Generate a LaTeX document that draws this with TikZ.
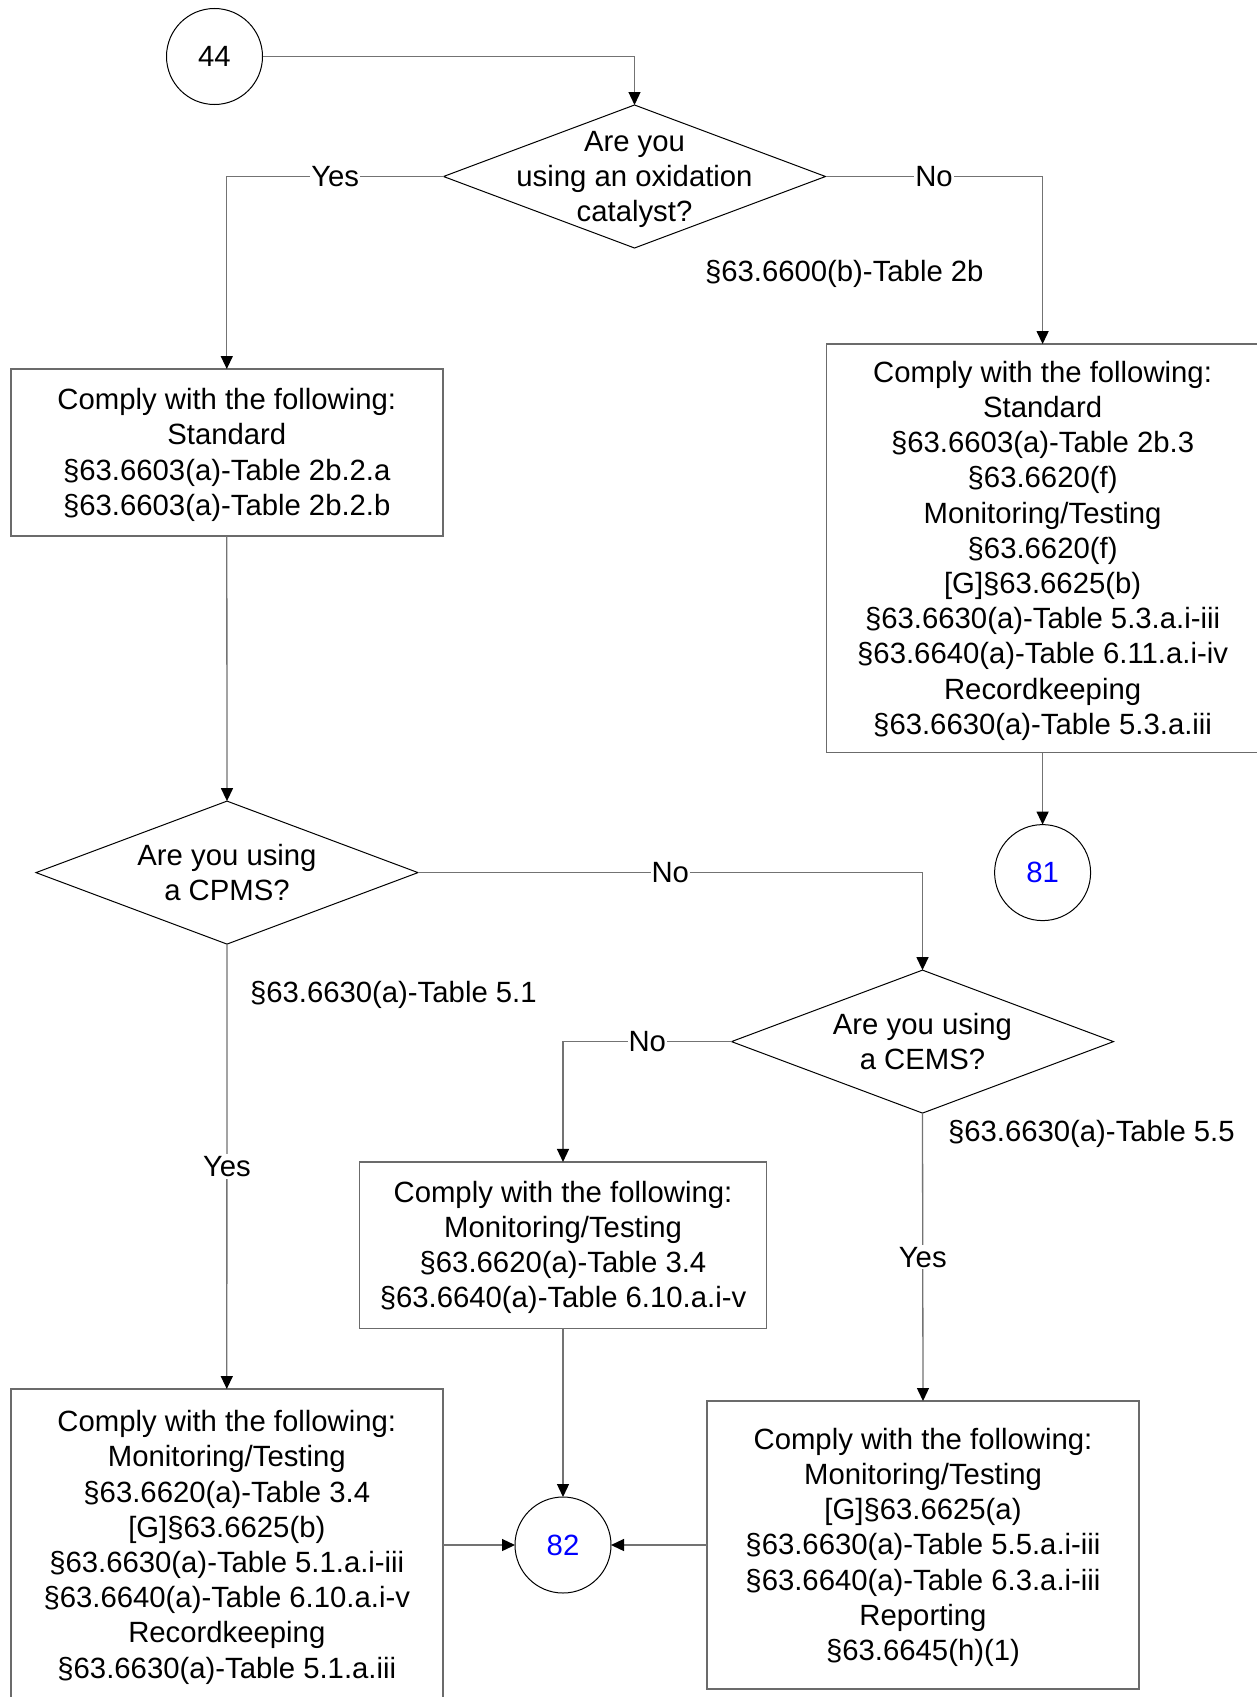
\documentclass[tikz,border=0pt]{standalone}
\usepackage{fontspec}
\setmainfont{Liberation Sans}
\usetikzlibrary{arrows.meta,shapes.geometric}
\newcommand\tp{\rule{0pt}{26pt}}
\begin{document}
\begin{tikzpicture}[x=1pt,y=-1pt,
  every node/.style={font=\fontsize{29.3}{35.2}\selectfont, inner sep=0pt, outer sep=0pt},
  conn/.style={draw=black!55, line width=1.3pt},
  arr/.style={conn, -{Triangle[length=13pt,width=12pt,fill=black,color=black]}},
  boxnode/.style={rectangle, draw=black!58, line width=1.4pt, align=center, fill=white},
  dia/.style={diamond, draw=black, line width=1pt, minimum width=382pt, minimum height=143pt},
  conncirc/.style={circle, draw=black, line width=1pt, minimum size=96pt},
  lbl/.style={fill=white, inner xsep=1pt, inner ysep=2pt},
  ref/.style={anchor=west}]
\useasboundingbox (0,0) rectangle (1257,1697);
\fill[white] (0,0) rectangle (1257,1697);

% shapes
\node[conncirc] (c44) at (214.5,56.5) {44};
\node[dia] (d1) at (634.5,176.5) {};
\node[align=center] (d1t) at (634.5,176.5) {\tp Are you\\using an oxidation\\catalyst?};

\node[boxnode, minimum width=432pt, minimum height=167pt] (b1) at (226.8,452.5)
  {\tp Comply with the following:\\Standard\\§63.6603(a)-Table 2b.2.a\\§63.6603(a)-Table 2b.2.b};
\node[boxnode, minimum width=432pt, minimum height=408.5pt] (b2) at (1042.6,548.3)
  {\tp Comply with the following:\\Standard\\§63.6603(a)-Table 2b.3\\§63.6620(f)\\Monitoring/Testing\\§63.6620(f)\\{}[G]§63.6625(b)\\§63.6630(a)-Table 5.3.a.i-iii\\§63.6640(a)-Table 6.11.a.i-iv\\Recordkeeping\\§63.6630(a)-Table 5.3.a.iii};

\node[dia] (d2) at (227,872.6) {};
\node[align=center] (d2t) at (227,870) {\tp Are you using\\a CPMS?};
\node[conncirc, text=blue] (c81) at (1042.6,872.6) {81};

\node[dia] (d3) at (922.5,1041.6) {};
\node[align=center] (d3t) at (922.5,1038.8) {\tp Are you using\\a CEMS?};

\node[boxnode, minimum width=407pt, minimum height=166.5pt] (b3) at (563,1245.2)
  {\tp Comply with the following:\\Monitoring/Testing\\§63.6620(a)-Table 3.4\\§63.6640(a)-Table 6.10.a.i-v};

\node[boxnode, minimum width=432pt, minimum height=312pt] (b4) at (226.8,1545)
  {\tp Comply with the following:\\Monitoring/Testing\\§63.6620(a)-Table 3.4\\{}[G]§63.6625(b)\\§63.6630(a)-Table 5.1.a.i-iii\\§63.6640(a)-Table 6.10.a.i-v\\Recordkeeping\\§63.6630(a)-Table 5.1.a.iii};
\node[boxnode, minimum width=432pt, minimum height=288pt] (b5) at (923,1545)
  {\tp Comply with the following:\\Monitoring/Testing\\{}[G]§63.6625(a)\\§63.6630(a)-Table 5.5.a.i-iii\\§63.6640(a)-Table 6.3.a.i-iii\\Reporting\\§63.6645(h)(1)};
\node[conncirc, text=blue] (c82) at (563,1545) {82};

% side references
\node[ref] (r1) at (705,274) {§63.6600(b)-Table 2b};
\node[ref] (r2) at (250,995) {§63.6630(a)-Table 5.1};
\node[ref] (r3) at (948,1133.5) {§63.6630(a)-Table 5.5};

% connectors
\draw[arr] (c44.east) -| (d1.north);
\draw[arr] (d1.west) -| node[lbl, pos=0.25] (ly1) {Yes} (b1.north);
\draw[arr] (d1.east) -| node[lbl, pos=0.25] (ln1) {No} (b2.north);
\draw[arr] (b1.south) -- (d2.north);
\draw[arr] (b2.south) -- (c81.north);
\draw[arr] (d2.east) -| node[lbl, pos=0.25] (ln2) {No} (d3.north);
\draw[arr] (d2.south) -- node[lbl, pos=0.5] (ly2) {Yes} (b4.north);
\draw[arr] (d3.west) -| node[lbl, pos=0.25] (ln3) {No} (b3.north);
\draw[arr] (d3.south) -- node[lbl, pos=0.5] (ly3) {Yes} (b5.north);
\draw[arr] (b3.south) -- (c82.north);
\draw[arr] (b4.east |- c82) -- (c82.west);
\draw[arr] (b5.west |- c82) -- (c82.east);
\end{tikzpicture}
\end{document}
